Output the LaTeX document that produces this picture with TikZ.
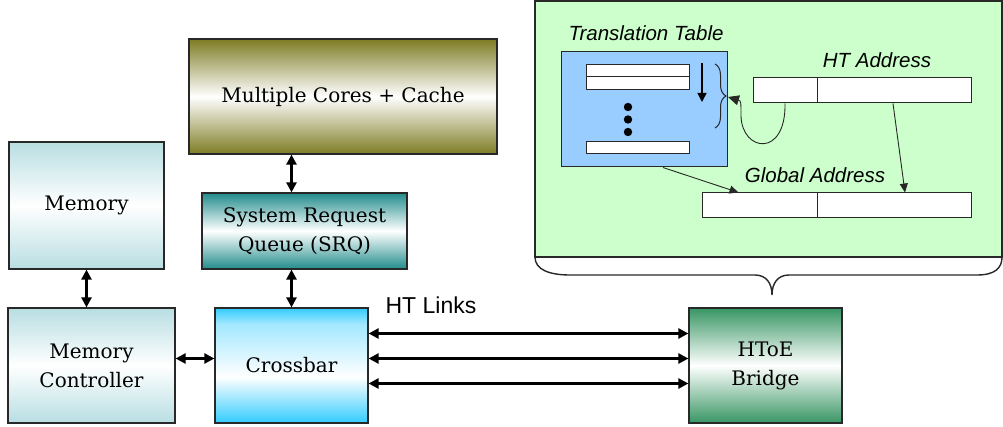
\documentclass[tikz,border=0pt]{standalone}
\usepackage{fontspec}
\setmainfont{DejaVu Serif}
\newfontfamily\arialfont{Liberation Sans}
\usepackage{tikz}
\usetikzlibrary{arrows.meta}
\usetikzlibrary{decorations.pathreplacing}
\definecolor{olivebox}{RGB}{126,124,36}
\definecolor{memblue}{RGB}{184,222,226}
\definecolor{srqteal}{RGB}{34,140,140}
\definecolor{xbarcyan}{RGB}{51,204,255}
\definecolor{bridgegreen}{RGB}{56,150,100}
\definecolor{panelgreen}{RGB}{204,255,204}
\definecolor{tableblue}{RGB}{153,204,255}
\definecolor{dgrey}{RGB}{40,40,40}
\pgfdeclareverticalshading{xbarshade}{100bp}{color(0bp)=(xbarcyan); color(25bp)=(xbarcyan); color(45bp)=(white); color(68bp)=(xbarcyan!45); color(75bp)=(xbarcyan); color(100bp)=(xbarcyan)}

\begin{document}
\begin{tikzpicture}[x=1pt,y=-1pt,>={Triangle[length=10pt,width=10pt]},line width=2.4pt]
      \tikzstyle{block}=[draw=dgrey,line width=1.2pt,inner sep=0pt,align=center,font=\fontsize{20}{29}\selectfont]
      \tikzstyle{cell}=[draw=dgrey,line width=1pt,fill=white,inner sep=0pt]
      \tikzstyle{tag}=[font=\arialfont\itshape\fontsize{20.5}{24}\selectfont]
      \tikzstyle{thinarrow}=[draw=dgrey,line width=0.9pt,-{Triangle[length=9pt,width=8pt]}]

      \useasboundingbox (0,0) rectangle (1003,427);

      % address translation panel with its brace
      \path[fill=panelgreen,draw=dgrey,line width=1.2pt] (535,1) rectangle (1002,257);
      \draw[dgrey,line width=1.4pt] (535,257) .. controls (535,270) and (550,275) .. (570,275)
            -- (755,275) .. controls (766,275) and (772,283) .. (772,295)
            .. controls (772,283) and (778,275) .. (789,275)
            -- (977,275) .. controls (995,275) and (1002,268) .. (1002,257);

      \node[tag]	(ttlabel) at (646,33)  {Translation Table};
      \node[draw=dgrey,line width=1pt,fill=tableblue,minimum width=166pt,minimum height=115pt] (tbl) at (644,109.5) {};
      \node[cell,minimum width=103pt,minimum height=12pt]	(row1) at (637.5,71)  {};
      \node[cell,minimum width=103pt,minimum height=13pt]	(row2) at (637.5,83.5) {};
      \node[cell,minimum width=103pt,minimum height=12pt]	(rowN) at (637.5,148) {};
      \foreach \y in {107,119.5,132}
        \fill (628,\y) circle (4.2pt);
      \draw[line width=1.3pt,-{Triangle[length=9pt,width=9pt]}] (702,63) -- (702,102);
      \draw[dgrey,line width=1pt,decorate,decoration={brace,amplitude=11pt}] (715,64) -- (715,128);
      \coordinate (bracetip) at (728,97);

      \node[tag]	(halabel) at (877,60)  {HT Address};
      \node[cell,minimum width=64pt,minimum height=25pt]	(ha1) at (785,90.5)  {};
      \node[cell,minimum width=154pt,minimum height=25pt]	(ha2) at (894,90.5)  {};
      \node[tag]	(galabel) at (815,175) {Global Address};
      \node[cell,minimum width=115pt,minimum height=25pt]	(ga1) at (759.5,205.5) {};
      \node[cell,minimum width=154pt,minimum height=25pt]	(ga2) at (894,205.5)   {};

      \draw[thinarrow,-{Triangle[length=11pt,width=10pt]}] (ha1.south) .. controls (786,158) and (742,152) .. (741,116)
            .. controls (741,101) .. (bracetip);
      \draw[thinarrow] ([xshift=-1pt]ha2.south) -- ([xshift=11pt]ga2.north);
      \draw[thinarrow] ([xshift=19pt]tbl.south) -- ([xshift=-21pt]ga1.north);

      % processor blocks
      \node[block,minimum width=308pt,minimum height=115pt,top color=olivebox,bottom color=olivebox,middle color=white]	(cores) at (343,96.5)  {\raisebox{-4pt}{Multiple Cores + Cache}};
      \node[block,minimum width=155pt,minimum height=127pt,top color=memblue,bottom color=memblue,middle color=white]	(mem)   at (86.5,205.5) {Memory};
      \node[block,minimum width=205pt,minimum height=76pt,top color=srqteal,bottom color=srqteal,middle color=white]	(srq)   at (304.5,231)  {System Request\\Queue (SRQ)};
      \node[block,minimum width=167pt,minimum height=115pt,top color=memblue,bottom color=memblue,middle color=white]	(mctl)  at (91.5,365.5) {Memory\\Controller};
      \node[block,minimum width=153pt,minimum height=115pt,shading=xbarshade]	(xbar)  at (291.5,365.5) {Crossbar};
      \node[block,minimum width=153pt,minimum height=115pt,top color=bridgegreen,bottom color=bridgegreen,middle color=white]	(htoe)  at (765.5,365.5) {HToE\\Bridge};

      \node[font=\arialfont\fontsize{23}{27}\selectfont]	(links) at (431,305) {HT Links};

      \draw[<->] (mem.south) -- (mem.south |- mctl.north);
      \draw[<->] (xbar.north |- cores.south) -- (xbar.north |- srq.north);
      \draw[<->] (xbar.north |- srq.south) -- (xbar.north);
      \draw[<->] ([yshift=7pt]mctl.east) -- ([yshift=7pt]xbar.west);
      \foreach \dy in {32,7,-18}
        \draw[<->] ([yshift=\dy pt]xbar.east) -- ([yshift=\dy pt]htoe.west);

\end{tikzpicture}
\end{document}
